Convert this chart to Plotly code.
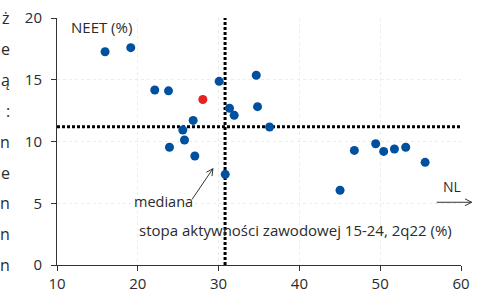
import math
import plotly.graph_objects as go

# ---- data ----
activity_rate = [15.95, 19.13, 22.1, 23.8, 34.66, 30.07, 31.35, 31.93, 34.82,
                 26.85, 25.57, 25.78, 23.92, 27.06, 30.82, 36.31,
                 46.8, 49.44, 50.43, 51.76, 53.16, 55.56, 45.03]
neet_rate = [17.27, 17.6, 14.17, 14.1, 15.36, 14.87, 12.69, 12.12, 12.82,
             11.71, 10.93, 10.12, 9.53, 8.83, 7.34, 11.17,
             9.28, 9.82, 9.2, 9.39, 9.53, 8.31, 6.05]
pl_activity = [28.05]
pl_neet = [13.4]
median_activity = 30.8
median_neet = 11.2

x_ticks = [10, 20, 30, 40, 50, 60]
y_ticks = [0, 5, 10, 15, 20]
left_chars = ["ż", "e", "ą", ":", "n", "e", "n", "n", "n"]

# ---- layout geometry ----
W, H = 481, 293
L, R, T, B = 57, 20, 18, 28
PW, PH = W - L - R, H - T - B
XR, YR = (10, 60), (0, 20)

def to_px(x, y):
    return (L + (x - XR[0]) / (XR[1] - XR[0]) * PW,
            T + (YR[1] - y) / (YR[1] - YR[0]) * PH)

def px_to_paper(px, py):
    return ((px - L) / PW, (H - B - py) / PH)

def arrow_path(x0, y0, x1, y1, head=7.5, ang=27):
    ax, ay = to_px(x0, y0)
    bx, by = to_px(x1, y1)
    th = math.atan2(by - ay, bx - ax)
    pts = []
    for s in (1, -1):
        a = th + math.pi - s * math.radians(ang)
        pts.append((bx + head * math.cos(a), by + head * math.sin(a)))
    def p(pt):
        u, v = px_to_paper(*pt)
        return f"{u:.5f},{v:.5f}"
    return (f"M{p((ax, ay))} L{p((bx, by))} "
            f"M{p(pts[0])} L{p((bx, by))} L{p(pts[1])}")

FONT = "Open Sans"
TXT = "#2b2b2b"

fig = go.Figure()
# median lines
fig.add_trace(go.Scatter(x=[median_activity, median_activity], y=list(YR), mode="lines",
                         line=dict(color="black", width=3, dash="3px,2px"),
                         hoverinfo="skip", showlegend=False))
fig.add_trace(go.Scatter(x=list(XR), y=[median_neet, median_neet], mode="lines",
                         line=dict(color="black", width=3, dash="3px,2px"),
                         hoverinfo="skip", showlegend=False))
# countries
fig.add_trace(go.Scatter(x=activity_rate, y=neet_rate, mode="markers",
                         marker=dict(size=9, color="#0050a0"), showlegend=False,
                         cliponaxis=False))
fig.add_trace(go.Scatter(x=pl_activity, y=pl_neet, mode="markers",
                         marker=dict(size=9, color="#e52421"), showlegend=False,
                         cliponaxis=False))

shapes = [
    dict(type="path", xref="paper", yref="paper",
         path=arrow_path(26.7, 5.3, 29.3, 7.8), line=dict(color="#333", width=1)),
    dict(type="path", xref="paper", yref="paper",
         path=arrow_path(57.0, 5.08, 61.32, 5.08), line=dict(color="#333", width=1)),
]

annotations = [
    dict(x=11.45, y=19.25, xref="x", yref="y", text="NEET (%)", showarrow=False,
         xanchor="left", yanchor="middle", font=dict(family=FONT, size=15, color=TXT)),
    dict(x=19.25, y=5.12, xref="x", yref="y", text="mediana", showarrow=False,
         xanchor="left", yanchor="middle", font=dict(family=FONT, size=14.5, color=TXT)),
    dict(x=19.85, y=2.85, xref="x", yref="y",
         text="stopa aktywności zawodowej 15-24, 2q22 (%)", showarrow=False,
         xanchor="left", yanchor="middle", font=dict(family=FONT, size=15, color=TXT)),
    dict(x=58.92, y=6.34, xref="x", yref="y", text="NL", showarrow=False,
         xanchor="center", yanchor="middle", font=dict(family=FONT, size=14, color=TXT)),
]
for i, ch in enumerate(left_chars):
    u, v = px_to_paper(12, 18 + 30.9 * i)
    annotations.append(dict(x=u, y=v, xref="paper", yref="paper", text=ch,
                            showarrow=False, xanchor="right", yanchor="middle",
                            font=dict(family=FONT, size=16, color=TXT)))

axis_common = dict(showline=True, linecolor="#333", linewidth=1, ticks="outside",
                   ticklen=5, tickcolor="#333", tickwidth=1,
                   showgrid=True, gridcolor="#ececec", griddash="dot", gridwidth=1,
                   zeroline=False, ticklabeloverflow="allow",
                   tickfont=dict(family=FONT, size=15, color=TXT))
fig.update_layout(
    width=W, height=H, margin=dict(l=L, r=R, t=T, b=B, autoexpand=False),
    paper_bgcolor="white", plot_bgcolor="white",
    xaxis=dict(range=list(XR), tickvals=x_ticks, **axis_common),
    yaxis=dict(range=list(YR), tickvals=y_ticks, ticklabelstandoff=6, **axis_common),
    shapes=shapes, annotations=annotations,
)
fig.write_html("out.html", config={"displayModeBar": False},
               post_script="document.body.style.margin='0';document.body.style.overflow='hidden';")
